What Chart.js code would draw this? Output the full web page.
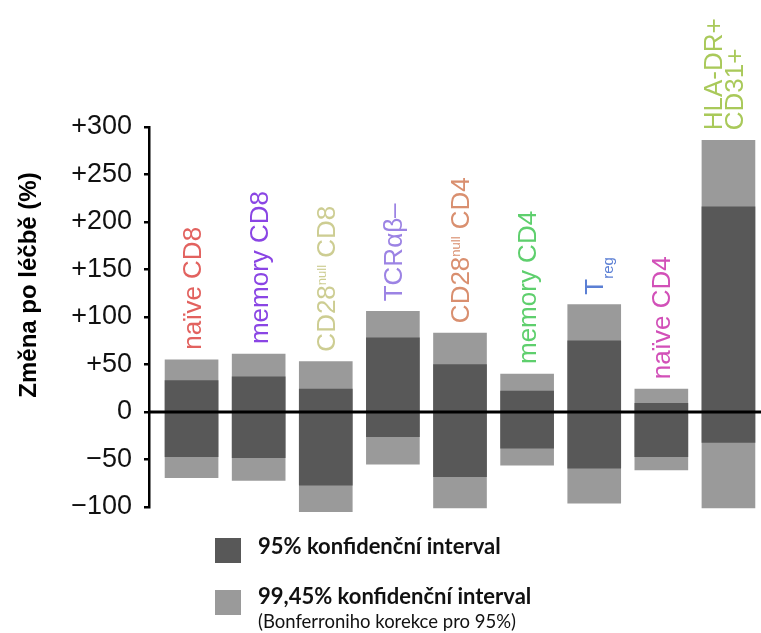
<!DOCTYPE html>
<html lang="cs">
<head>
<meta charset="UTF-8" />
<title>Změna po léčbě – konfidenční intervaly</title>
<script src="https://cdn.jsdelivr.net/npm/chart.js"></script>
<style>
  body { margin: 0; background: #fff; }
  #wrap { position: relative; width: 761px; height: 633px; overflow: hidden; }
  .sq { position: absolute; left: 215px; width: 26px; height: 25px; }
  .lg { position: absolute; left: 258px; font-family: Lato, "Open Sans", sans-serif; color: #111; white-space: nowrap; }
  .lg.b { font-weight: bold; font-size: 22px; line-height: 24px; }
  .lg.s { font-size: 18.5px; line-height: 21px; }
</style>
</head>
<body>
<div id="wrap">
  <canvas id="chart" width="761" height="633"></canvas>
  <div class="sq" style="top:538px;background:#585858"></div>
  <div class="lg b" style="top:534px">95% konfidenční interval</div>
  <div class="sq" style="top:590px;background:#9a9a9a"></div>
  <div class="lg b" style="top:584px">99,45% konfidenční interval</div>
  <div class="lg s" style="top:611px">(Bonferroniho korekce pro 95%)</div>
</div>
<script>
// kategorie (^{} = horní index, _{} = dolní index, \n = nový řádek)
const categories = ['naïve CD8', 'memory CD8', 'CD28^{null} CD8', 'TCRαβ–', 'CD28^{null} CD4',
  'memory CD4', 'T_{reg}', 'naïve CD4', 'HLA-DR+\nCD31+'];
const labelColors = ['#e2625f', '#8a45e4', '#cdcd92', '#9c83e4', '#d98f6f',
  '#5ecf6d', '#5b7fd4', '#d250b8', '#a9c95a'];

// 95% interval
const ci95Low  = [-47, -48, -77, -26, -68, -38, -59, -47, -32];
const ci95High = [ 33,  37,  24,  78,  50,  22,  75,   9, 216];
// 99,45% interval
const ci9945Low  = [-69, -72, -105, -55, -101, -56, -96, -61, -101];
const ci9945High = [ 55,  61,   53, 106,   83,  40, 113,  24,  286];

const yTicks = [-100, -50, 0, 50, 100, 150, 200, 250, 300];

const FONT = '"Liberation Sans", Arial, Helvetica, sans-serif';

const labelPlugin = {
  id: 'catLabels',
  afterDatasetsDraw(chart) {
    const { ctx, chartArea, scales: { x, y } } = chart;

    // nulová čára
    const y0 = y.getPixelForValue(0);
    ctx.save();
    ctx.strokeStyle = '#000';
    ctx.lineWidth = 3;
    ctx.beginPath();
    ctx.moveTo(chartArea.left, y0);
    ctx.lineTo(chartArea.right, y0);
    ctx.stroke();
    ctx.restore();

    // popisky nad sloupci
    categories.forEach((cat, i) => {
      const cx = x.getPixelForValue(i);
      const top = y.getPixelForValue(ci9945High[i]);
      const lines = cat.split('\n');
      ctx.save();
      ctx.translate(cx, top - 10);
      ctx.rotate(-Math.PI / 2);
      ctx.fillStyle = labelColors[i];
      ctx.textBaseline = 'alphabetic';
      lines.forEach((line, k) => {
        let u = 0;
        const v = 9 - (lines.length - 1) * 15 + k * 21;
        const parts = line.split(/(\^\{[^}]*\}|_\{[^}]*\})/).filter(Boolean);
        parts.forEach(p => {
          let txt = p, size = 26, dv = 0;
          if (p.startsWith('^{')) { txt = p.slice(2, -1); size = 13; dv = -9; }
          else if (p.startsWith('_{')) { txt = p.slice(2, -1); size = 15; dv = 10; }
          ctx.font = size + 'px ' + FONT;
          ctx.fillText(txt, u, v + dv);
          u += ctx.measureText(txt).width;
        });
      });
      ctx.restore();
    });

    // název osy y
    ctx.save();
    ctx.translate(36, 285);
    ctx.rotate(-Math.PI / 2);
    ctx.font = 'bold 24px ' + FONT;
    ctx.fillStyle = '#000';
    ctx.textAlign = 'center';
    ctx.fillText('Změna po léčbě (%)', 0, 0);
    ctx.restore();
  }
};

new Chart(document.getElementById('chart'), {
  type: 'bar',
  data: {
    datasets: [
      {
        label: '95% konfidenční interval',
        data: categories.map((c, i) => ({ x: i, y: [ci95Low[i], ci95High[i]] })),
        backgroundColor: '#585858',
        grouped: false,
        barThickness: 53,
        clip: false
      },
      {
        label: '99,45% konfidenční interval',
        data: categories.map((c, i) => ({ x: i, y: [ci9945Low[i], ci9945High[i]] })),
        backgroundColor: '#9a9a9a',
        grouped: false,
        barThickness: 53,
        clip: false
      }
    ]
  },
  options: {
    responsive: false,
    animation: false,
    layout: { padding: { top: 127, bottom: 126, left: 0, right: 0 } },
    plugins: { legend: { display: false }, tooltip: { enabled: false } },
    scales: {
      x: { type: 'linear', offset: false, min: -0.634, max: 8.485, display: false },
      y: {
        min: -100,
        max: 300,
        afterBuildTicks: (scale) => { scale.ticks = yTicks.map(v => ({ value: v })); },
        afterFit: (scale) => { scale.width = 149; scale.paddingTop = 0; scale.paddingBottom = 0; },
        border: { display: true, color: '#000', width: 2.5 },
        grid: { drawOnChartArea: false, color: '#000', lineWidth: 2.5, tickLength: 5 },
        ticks: {
          color: '#111',
          padding: 12,
          font: { family: FONT, size: 27 },
          callback: (v) => v > 0 ? '+' + v : (v < 0 ? '−' + Math.abs(v) : '0')
        }
      }
    }
  },
  plugins: [labelPlugin]
});
</script>
</body>
</html>
